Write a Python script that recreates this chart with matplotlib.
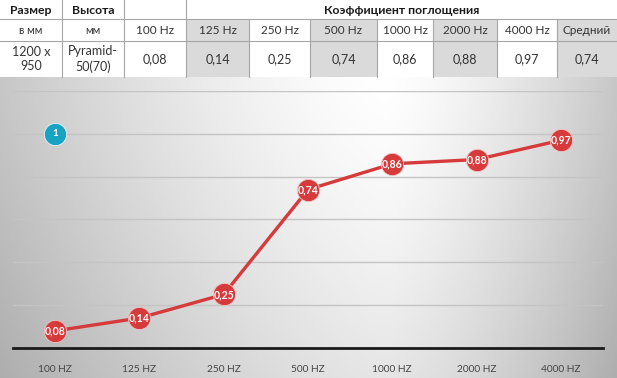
import numpy as np
import matplotlib
matplotlib.use("Agg")
import matplotlib.pyplot as plt
from matplotlib.patches import Rectangle

# ---------------- data ----------------
categories = ['100 HZ', '125 HZ', '250 HZ', '500 HZ', '1000 HZ', '2000 HZ', '4000 HZ']
values = [0.08, 0.14, 0.25, 0.74, 0.86, 0.88, 0.97]
value_labels = ['0,08', '0,14', '0,25', '0,74', '0,86', '0,88', '0,97']

table_head1 = ['Размер', 'Высота', '', 'Коэффициент поглощения']
table_head2 = ['в мм', 'мм', '100 Hz', '125 Hz', '250 Hz', '500 Hz',
               '1000 Hz', '2000 Hz', '4000 Hz', 'Средний']
table_row = ['1200 x\n950', 'Pyramid-\n50(70)', '0,08', '0,14', '0,25', '0,74',
             '0,86', '0,88', '0,97', '0,74']
shaded_cols = [3, 5, 7, 9]

FONT = ['Lato', 'DejaVu Sans']
plt.rcParams['font.family'] = FONT

W, H = 617, 378
fig = plt.figure(figsize=(W / 100, H / 100), dpi=100)

# background axes in pixel coords
bg = fig.add_axes([0, 0, 1, 1])
bg.set_xlim(0, W)
bg.set_ylim(H, 0)
bg.axis('off')

# gradient for chart area
top = 77
yy, xx = np.mgrid[top:H, 0:W].astype(float)
cx = 385.0
L = np.where(xx < cx, 385.0, 232.0)
dx = np.abs(xx - cx) / L
v = 1 - 0.22 * dx ** 1.4 - 0.10 * ((yy - top) / (H - top)) ** 1.3
v = np.clip(v, 0, 1)
img = np.dstack([v, v, v])
bg.imshow(img, extent=[0, W, H, top], aspect='auto', zorder=0, interpolation='bilinear')

# table
col_edges = [0, 62, 124, 186, 249, 310, 377, 433, 497, 557, 617]
row_edges = [0, 19, 41, 77]
bg.add_patch(Rectangle((0, 0), W, top, facecolor='white', edgecolor='none', zorder=1))
for c in shaded_cols:
    x0, x1 = col_edges[c], col_edges[c + 1]
    bg.add_patch(Rectangle((x0, row_edges[1]), x1 - x0, row_edges[3] - row_edges[1],
                           facecolor='#dadada', edgecolor='none', zorder=1.5))
lc = '#a6a6a6'
for y in row_edges[1:3]:
    bg.plot([0, W], [y, y], color=lc, lw=0.8, zorder=2)
for i, x in enumerate(col_edges[1:-1], start=1):
    y0 = 0 if i <= 3 else row_edges[1]
    bg.plot([x, x], [y0, top], color=lc, lw=0.8, zorder=2)

# header row 1
hy = (row_edges[0] + row_edges[1]) / 2 + 1
bg.text((col_edges[0] + col_edges[1]) / 2, hy, table_head1[0], ha='center', va='center',
        fontsize=8.8, fontweight='bold', color='#1a1a1a', zorder=3)
bg.text((col_edges[1] + col_edges[2]) / 2, hy, table_head1[1], ha='center', va='center',
        fontsize=8.8, fontweight='bold', color='#1a1a1a', zorder=3)
bg.text((col_edges[3] + col_edges[-1]) / 2, hy, table_head1[3], ha='center', va='center',
        fontsize=8.8, fontweight='bold', color='#1a1a1a', zorder=3)
# header row 2
hy2 = (row_edges[1] + row_edges[2]) / 2
for i, t in enumerate(table_head2):
    xc = (col_edges[i] + col_edges[i + 1]) / 2
    bg.text(xc, hy2, t, ha='center', va='center',
            fontsize=7.8 if i < 2 else 8.5, color='#333333', zorder=3)
# data row
dy = (row_edges[2] + row_edges[3]) / 2
for i, t in enumerate(table_row):
    xc = (col_edges[i] + col_edges[i + 1]) / 2
    bg.text(xc, dy, t, ha='center', va='center', fontsize=9, color='#333333',
            linespacing=1.25, zorder=3)

# ---------------- chart ----------------
left, right, y0px, y1px = 13, 603, 348, 91
ax = fig.add_axes([left / W, (H - y0px) / H, (right - left) / W, (y0px - y1px) / H])
ax.patch.set_alpha(0)
x = np.arange(len(categories))
ax.set_xlim(-0.5, len(categories) - 0.5)
ax.set_ylim(0, 1.2)
for s in ['top', 'right', 'left']:
    ax.spines[s].set_visible(False)
ax.spines['bottom'].set_color('#1a1a1a')
ax.spines['bottom'].set_linewidth(2)
ax.set_yticks(np.arange(0.2, 1.21, 0.2))
ax.tick_params(axis='y', left=False, labelleft=False)
ax.tick_params(axis='x', bottom=False, labelsize=7.3, colors='#444444', pad=9)
ax.set_xticks(x)
ax.set_xticklabels(categories)
ax.grid(axis='y', color='#c4c4c4', lw=1)
ax.set_axisbelow(True)

red = '#d63a3a'
ax.plot(x, values, color=red, lw=2.4, zorder=3, solid_capstyle='round')
ax.plot(x, values, 'o', color=red, markersize=16, markeredgecolor='#f0c8c8',
        markeredgewidth=0.6, zorder=4)
for xi, vi, lab in zip(x, values, value_labels):
    ax.text(xi, vi, lab, ha='center', va='center', fontsize=7.6, fontweight='bold',
            color='white', zorder=5)

# blue badge
ax.plot([0], [1.0], 'o', color='#19a3c2', markersize=16, markeredgecolor='#e8f4f8',
        markeredgewidth=0.6, zorder=4)
ax.text(0, 1.0, '1', ha='center', va='center', fontsize=7, fontweight='bold',
        color='white', zorder=5)

fig.savefig('out.png', dpi=100)
